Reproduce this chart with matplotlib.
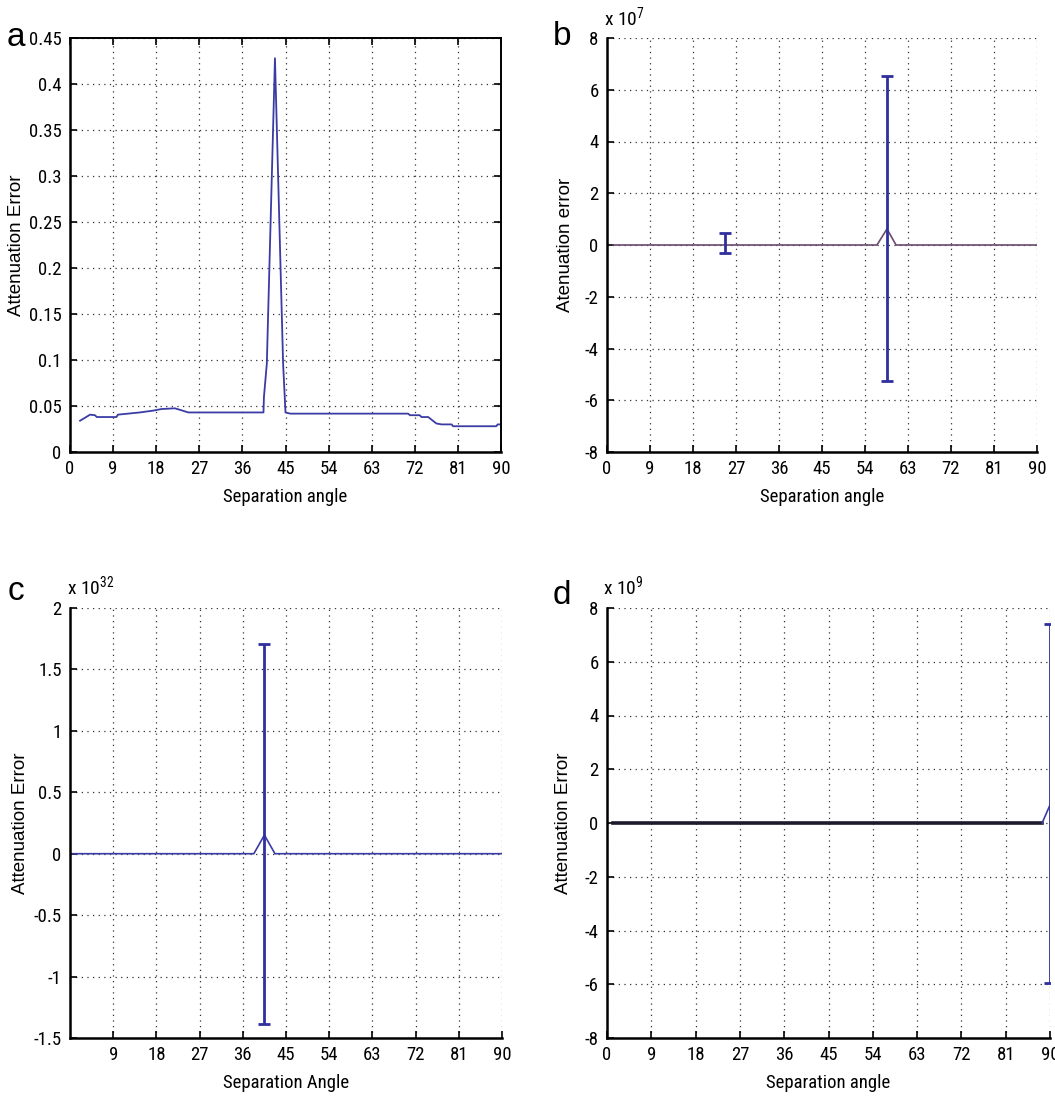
import matplotlib
matplotlib.use("Agg")
import matplotlib.pyplot as plt
from matplotlib import font_manager
from matplotlib.ticker import FuncFormatter

# panel a: attenuation error vs separation angle
a_angle = [2.1, 4.2, 5.2, 5.6, 9.7, 10.0, 14.6, 17.4, 19.1, 21.9, 23.3, 24.7,
           40.4, 40.5, 41.1, 42.8, 44.5, 45.0, 46.0, 70.6, 71.0, 73.0, 73.4,
           74.8, 76.5, 77.6, 79.7, 80.0, 89.0, 89.3, 90.0]
a_error = [0.034, 0.0406, 0.040, 0.038, 0.038, 0.0406, 0.043, 0.045, 0.0467,
           0.0475, 0.0453, 0.043, 0.043, 0.060, 0.096, 0.428, 0.096, 0.043,
           0.0417, 0.0417, 0.040, 0.040, 0.038, 0.038, 0.031, 0.030, 0.030,
           0.028, 0.028, 0.030, 0.030]

# panel b
b_angle = [1.3, 56.5, 58.6, 60.5, 90.0]
b_error = [0.0, 0.0, 0.62e7, 0.0, 0.0]
b_bar_x = [24.7, 58.6]
b_bar_y = [0.05e7, 0.62e7]
b_bar_lo = [-0.30e7, -5.27e7]
b_bar_hi = [0.48e7, 6.52e7]

# panel c
c_angle = [0.5, 38.3, 40.5, 42.7, 90.0]
c_error = [0.0, 0.0, 0.152e32, 0.0, 0.0]
c_bar_x = [40.5]
c_bar_y = [0.152e32]
c_bar_lo = [-1.39e32]
c_bar_hi = [1.71e32]

# panel d
d_angle = [1.3, 88.4, 90.0]
d_error = [0.0, 0.0, 0.67e9]
d_bar_x = [90.0]
d_bar_y = [0.67e9]
d_bar_lo = [-5.96e9]
d_bar_hi = [7.42e9]

angle_ticks = list(range(0, 91, 9))


def pick_narrow_font():
    # prefer an installed condensed / narrow sans face, else plain Liberation Sans
    entries = font_manager.fontManager.ttflist
    names = {f.name for f in entries}
    for name in ("Liberation Sans Narrow", "Arial Narrow", "Roboto Condensed",
                 "DejaVu Sans Condensed", "Open Sans Condensed", "Noto Sans Condensed"):
        if name in names:
            return name, "normal", 13.5
    for f in entries:
        if "Sans" in f.name and f.stretch in ("condensed", "semi-condensed", 500, 300):
            return f.name, "condensed", 13.5
    return "Liberation Sans", "normal", 11.5


NARROW, STRETCH, TICK_SIZE = pick_narrow_font()
plt.rcParams["font.family"] = [NARROW, "DejaVu Sans"]
plt.rcParams["font.stretch"] = STRETCH
plt.rcParams["mathtext.fontset"] = "custom"
plt.rcParams["mathtext.rm"] = NARROW
plt.rcParams["mathtext.it"] = NARROW

W, H = 1055, 1109
fig = plt.figure(figsize=(W / 100, H / 100), dpi=100)


def add_axes(left, top, right, bottom):
    return fig.add_axes([left / W, 1 - bottom / H, (right - left) / W, (bottom - top) / H])


def style(ax, box, xticks, yticks, scale, ylabel, xlabel, ylab_x, letter, lpos):
    ax.set_xticks(xticks)
    ax.set_yticks(yticks)
    ax.xaxis.set_major_formatter(FuncFormatter(lambda v, p: f"{v:g}"))
    ax.yaxis.set_major_formatter(FuncFormatter(lambda v, p: f"{round(v / scale, 6):g}"))
    ax.tick_params(direction="in", length=5, width=1.2, labelsize=TICK_SIZE,
                   top=box, right=box, pad=6)
    for side in ("left", "bottom"):
        ax.spines[side].set_linewidth(1.8)
    for side in ("top", "right"):
        ax.spines[side].set_visible(box)
        ax.spines[side].set_linewidth(1.4)
    ax.grid(True, color="#333333", linestyle=(0, (1, 3.5)), linewidth=0.9)
    ax.set_axisbelow(True)
    ax.set_ylabel(ylabel, family=["Liberation Sans", "DejaVu Sans"], stretch="normal",
                  fontsize=13.5)
    ax.yaxis.set_label_coords(ylab_x, 0.5)
    ax.set_xlabel(xlabel, fontsize=TICK_SIZE, labelpad=7)
    fig.text(lpos[0] / W, 1 - lpos[1] / H, letter, family=["Liberation Sans", "DejaVu Sans"],
             stretch="normal", fontsize=24, ha="left", va="baseline")
    if scale != 1:
        exp = len(str(int(scale))) - 1
        ax.text(-0.008, 1.022, rf"x 10$^{{{exp}}}$", transform=ax.transAxes,
                fontsize=14, ha="left", va="bottom")


LINE_BLUE = "#3b3ba6"
BAR_BLUE = "#2f2f9e"

# a
ax = add_axes(70, 38, 501, 452)
ax.plot(a_angle, a_error, color=LINE_BLUE, linewidth=1.3)
ax.set_xlim(0, 90)
ax.set_ylim(0, 0.45)
style(ax, True, angle_ticks, [i * 0.05 for i in range(10)], 1,
      "Attenuation Error", "Separation angle", -0.104, "a", (7, 46))

# b
ax = add_axes(607, 38, 1037, 452)
ax.plot(b_angle, b_error, color="#6a4a6e", linewidth=1.2)
ax.errorbar(b_bar_x, b_bar_y,
            yerr=[[y - lo for y, lo in zip(b_bar_y, b_bar_lo)],
                  [hi - y for y, hi in zip(b_bar_y, b_bar_hi)]],
            fmt="none", ecolor=BAR_BLUE, elinewidth=2, capsize=4, capthick=2)
ax.set_xlim(0, 90)
ax.set_ylim(-8e7, 8e7)
style(ax, False, angle_ticks, [i * 2e7 for i in range(-4, 5)], 1e7,
      "Atenuation error", "Separation angle", -0.077, "b", (553, 45))

# c
ax = add_axes(70, 608, 502, 1038)
ax.plot(c_angle, c_error, color=LINE_BLUE, linewidth=1.2)
ax.errorbar(c_bar_x, c_bar_y,
            yerr=[[y - lo for y, lo in zip(c_bar_y, c_bar_lo)],
                  [hi - y for y, hi in zip(c_bar_y, c_bar_hi)]],
            fmt="none", ecolor=BAR_BLUE, elinewidth=2, capsize=4, capthick=2)
ax.set_xlim(0, 90)
ax.set_ylim(-1.5e32, 2e32)
style(ax, False, angle_ticks[1:], [i * 0.5e32 for i in range(-3, 5)], 1e32,
      "Attenuation Error", "Separation Angle", -0.095, "c", (8, 600))

# d
ax = add_axes(607, 608, 1050, 1038)
ax.plot(d_angle[:2], d_error[:2], color="#1e1a2e", linewidth=2.6)
ax.plot(d_angle[1:], d_error[1:], color=LINE_BLUE, linewidth=1.2)
ax.errorbar(d_bar_x, d_bar_y,
            yerr=[[y - lo for y, lo in zip(d_bar_y, d_bar_lo)],
                  [hi - y for y, hi in zip(d_bar_y, d_bar_hi)]],
            fmt="none", ecolor=BAR_BLUE, elinewidth=2, capsize=4, capthick=2)
ax.set_xlim(0, 90)
ax.set_ylim(-8e9, 8e9)
style(ax, False, angle_ticks, [i * 2e9 for i in range(-4, 5)], 1e9,
      "Attenuation Error", "Separation angle", -0.079, "d", (553, 604))

fig.savefig("out.png", dpi=100)
